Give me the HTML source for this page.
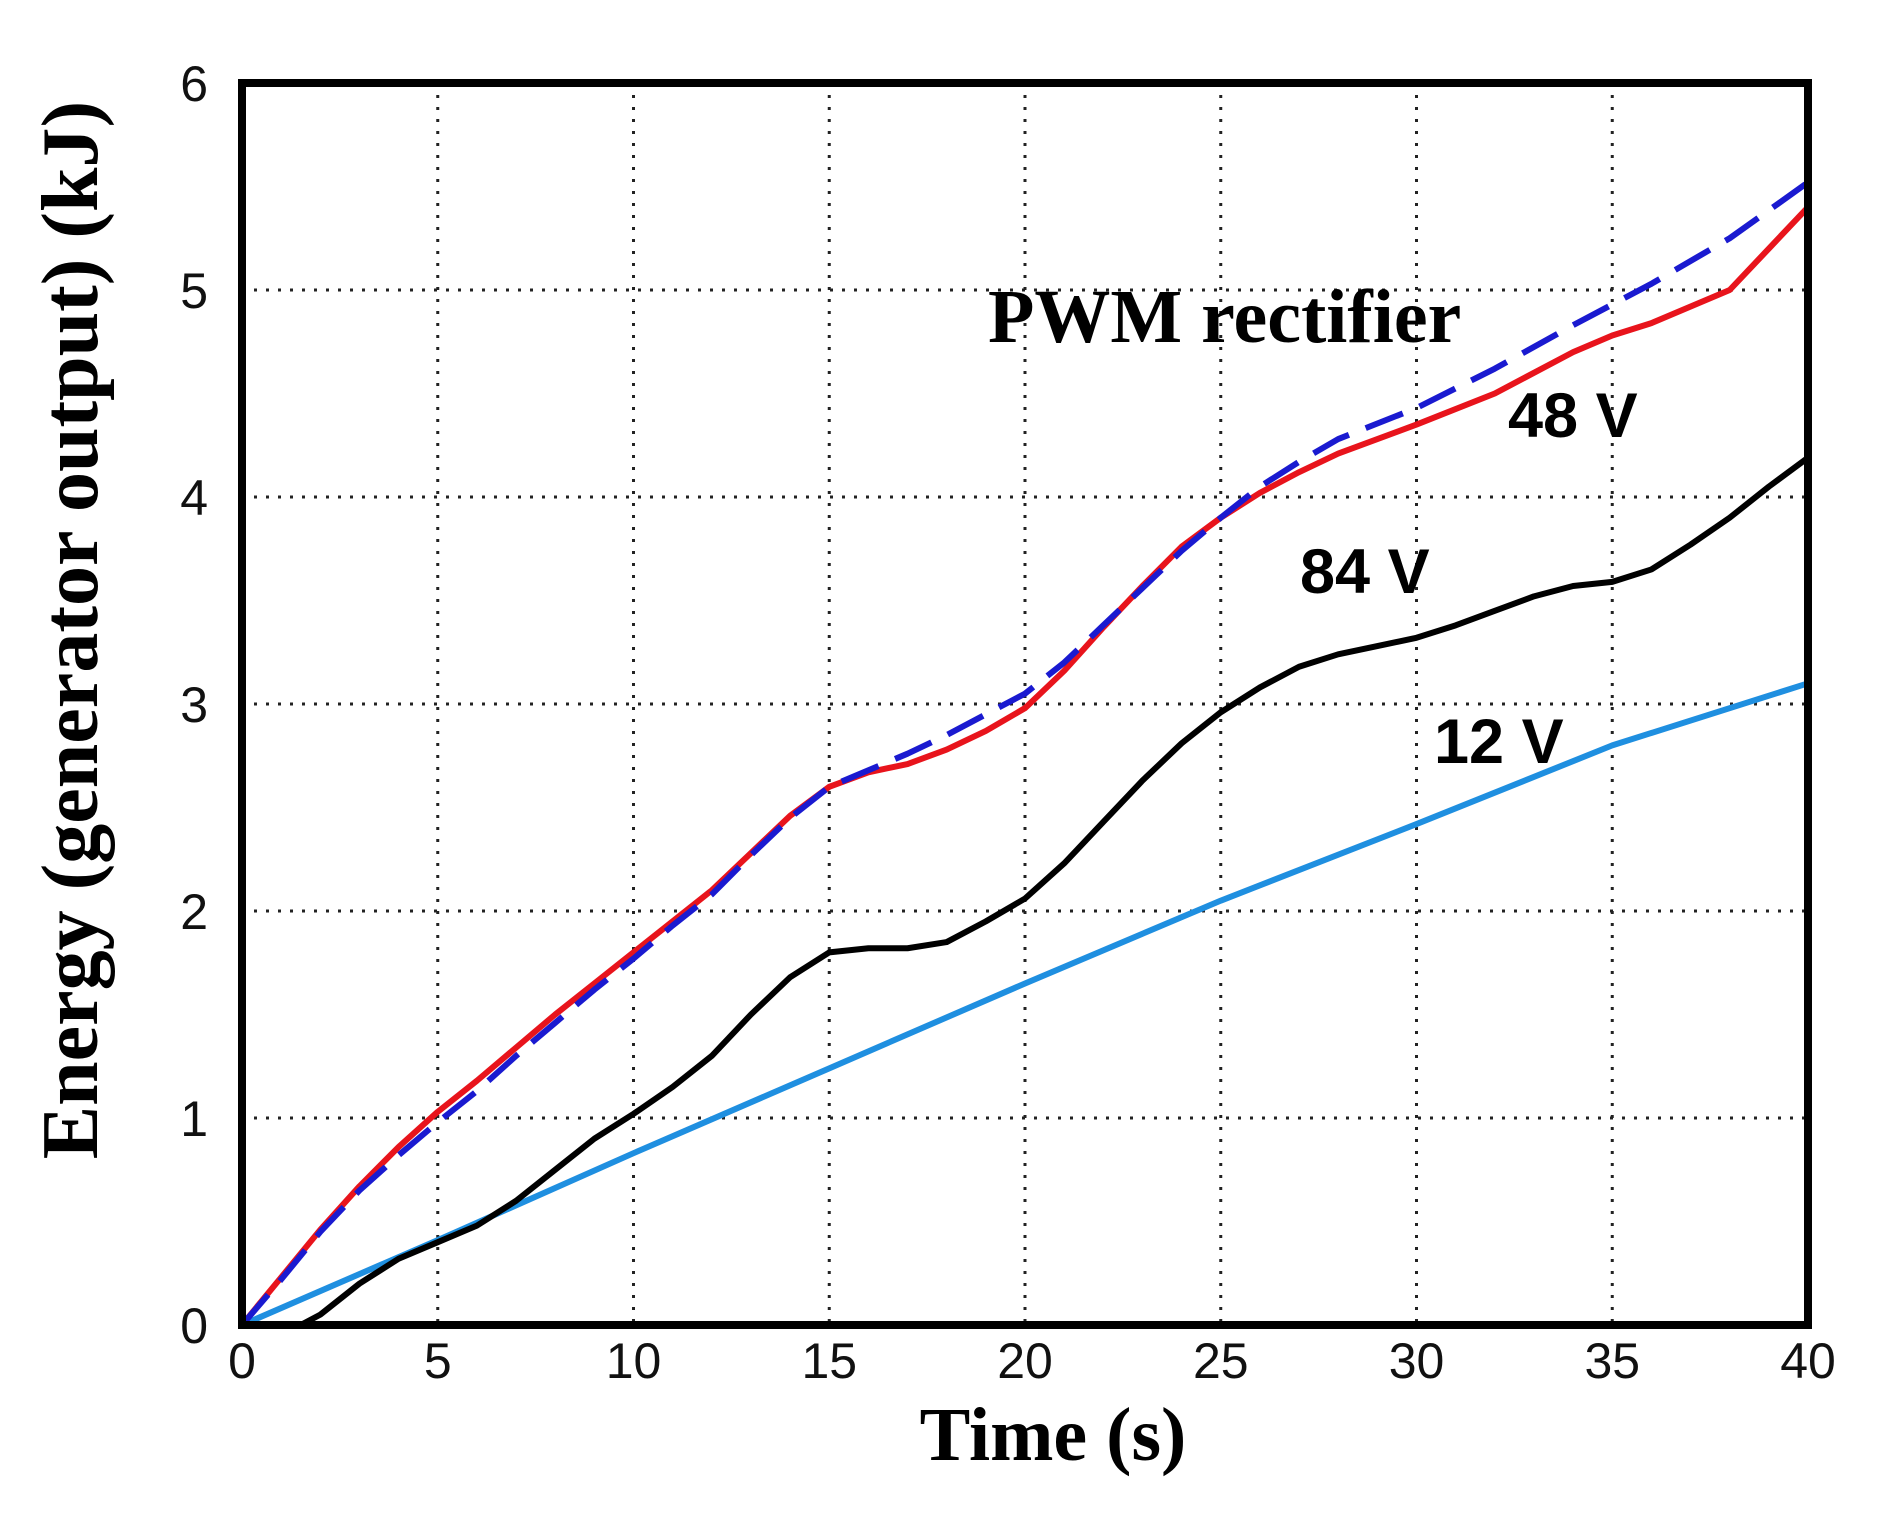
<!DOCTYPE html>
<html><head><meta charset="utf-8">
<style>
html,body{margin:0;padding:0;background:#fff;}
svg{display:block;}
.tick{font-family:"Liberation Sans",sans-serif;font-size:50px;fill:#111;}
.serif{font-family:"Liberation Serif",serif;font-weight:bold;fill:#000;}
.lab{font-family:"Liberation Sans",sans-serif;font-weight:bold;font-size:63px;fill:#000;}
</style></head>
<body>
<svg id="chart" width="1887" height="1513" viewBox="0 0 1887 1513" xmlns="http://www.w3.org/2000/svg">
<g id="grid"></g>
<g id="series"></g>
<rect x="242" y="83" width="1566" height="1242" fill="none" stroke="#000" stroke-width="8"/>
<g id="ticks"></g>
<text class="serif" x="1053" y="1460" font-size="76" text-anchor="middle">Time (s)</text>
<text class="serif" x="97" y="630" font-size="80" text-anchor="middle" transform="rotate(-90 97 630)">Energy (generator output) (kJ)</text>
<text class="serif" x="988" y="342" font-size="76">PWM rectifier</text>
<text class="lab" x="1508" y="437">48 V</text>
<text class="lab" x="1300" y="593">84 V</text>
<text class="lab" x="1434" y="763">12 V</text>
</svg>
<script>
const xTicks=[0,5,10,15,20,25,30,35,40];
const yTicks=[0,1,2,3,4,5,6];
const tPwm=[0,1,2,3,4,5,6,7,8,9,10,11,12,13,14,15,16,17,18,19,20,21,22,23,24,25,26,27,28,30,32,34,36,38,40];
const ePwm=[0,0.22,0.45,0.65,0.82,0.98,1.13,1.3,1.46,1.62,1.77,1.93,2.08,2.27,2.45,2.6,2.68,2.76,2.85,2.95,3.05,3.2,3.38,3.56,3.74,3.9,4.05,4.17,4.28,4.43,4.62,4.83,5.03,5.25,5.52];
const t48=[0,1,2,3,4,5,6,7,8,9,10,11,12,13,14,15,16,17,18,19,20,21,22,23,24,25,26,27,28,30,32,34,35,36,38,40];
const e48=[0,0.23,0.46,0.67,0.86,1.03,1.18,1.34,1.5,1.65,1.8,1.95,2.1,2.28,2.46,2.6,2.67,2.71,2.78,2.87,2.98,3.16,3.37,3.57,3.76,3.9,4.02,4.12,4.21,4.35,4.5,4.7,4.78,4.84,5.0,5.4];
const t84=[0,1,1.5,2,3,4,5,6,7,8,9,10,11,12,13,14,15,16,17,18,19,20,21,22,23,24,25,26,27,28,29,30,31,32,33,34,35,36,37,38,39,40];
const e84=[0,0,0,0.05,0.2,0.32,0.4,0.48,0.6,0.75,0.9,1.02,1.15,1.3,1.5,1.68,1.8,1.82,1.82,1.85,1.95,2.06,2.23,2.43,2.63,2.81,2.96,3.08,3.18,3.24,3.28,3.32,3.38,3.45,3.52,3.57,3.59,3.65,3.77,3.9,4.05,4.19];
const t12=[0,5,10,15,20,25,30,35,40];
const e12=[0,0.41,0.83,1.24,1.65,2.05,2.42,2.8,3.1];

const X0=242,X1=1808,Y0=1325,Y1=83;
const xs=v=>X0+(v-0)/(40-0)*(X1-X0);
const ys=v=>Y0-(v-0)/(6-0)*(Y0-Y1);
const NS="http://www.w3.org/2000/svg";
const grid=document.getElementById('grid'),series=document.getElementById('series'),ticks=document.getElementById('ticks');

xTicks.forEach(v=>{
  if(v>0&&v<40){
    const l=document.createElementNS(NS,'line');
    l.setAttribute('x1',xs(v));l.setAttribute('x2',xs(v));l.setAttribute('y1',Y1);l.setAttribute('y2',Y0);
    l.setAttribute('stroke','#222');l.setAttribute('stroke-width','3');l.setAttribute('stroke-dasharray','3 9');
    
    
    grid.appendChild(l);
  }
  const t=document.createElementNS(NS,'text');
  t.setAttribute('x',xs(v));t.setAttribute('y',1378);t.setAttribute('text-anchor','middle');t.setAttribute('class','tick');
  t.textContent=v;
  
  
  ticks.appendChild(t);
});
yTicks.forEach(v=>{
  if(v>0&&v<6){
    const l=document.createElementNS(NS,'line');
    l.setAttribute('x1',X0);l.setAttribute('x2',X1);l.setAttribute('y1',ys(v));l.setAttribute('y2',ys(v));
    l.setAttribute('stroke','#222');l.setAttribute('stroke-width','3');l.setAttribute('stroke-dasharray','3 9');
    
    
    grid.appendChild(l);
  }
  const t=document.createElementNS(NS,'text');
  t.setAttribute('x',208);t.setAttribute('y',ys(v)+18);t.setAttribute('text-anchor','end');t.setAttribute('class','tick');
  t.textContent=v;
  
  
  ticks.appendChild(t);
});
function line(tx,ey,color,dash,name){
  const p=document.createElementNS(NS,'polyline');
  p.setAttribute('points',tx.map((t,i)=>xs(t)+','+ys(ey[i])).join(' '));
  p.setAttribute('fill','none');p.setAttribute('stroke',color);p.setAttribute('stroke-width','6');
  p.setAttribute('stroke-linejoin','round');
  if(dash)p.setAttribute('stroke-dasharray',dash);
  
  
  series.appendChild(p);
}
line(t12,e12,'#1f8fe0',null,'line-12v');
line(t84,e84,'#000',null,'line-84v');
line(t48,e48,'#e8141c',null,'line-48v');
line(tPwm,ePwm,'#1a1ad0','40 18','line-pwm-rectifier');
</script>
</body></html>
